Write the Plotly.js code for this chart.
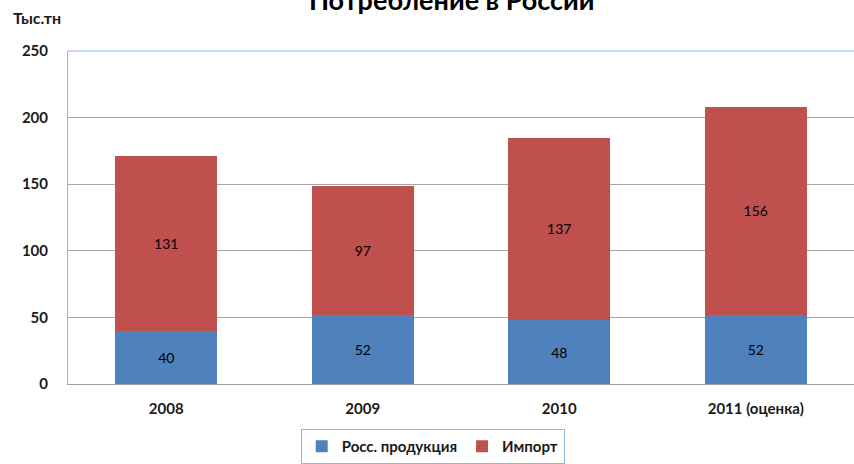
<!DOCTYPE html>
<html>
<head>
<meta charset="utf-8">
<script src="https://cdn.plot.ly/plotly-3.0.1.min.js"></script>
<style>html,body{margin:0;padding:0;background:#fff}#chart{width:854px;height:464px}</style>
</head>
<body>
<div id="chart"></div>
<script>
const categories = ["2008", "2009", "2010", "2011 (оценка)"];
const domestic = [40, 52, 48, 52];
const imports = [131, 97, 137, 156];
const seriesNames = ["Росс. продукция", "Импорт"];
const yTicks = [0, 50, 100, 150, 200, 250];

const font = "Lato, 'Open Sans', sans-serif";

const traces = [
  {
    type: "bar", name: seriesNames[0], x: categories, y: domestic,
    marker: {color: "#4F81BD"},
    text: domestic.map(String), textposition: "inside", insidetextanchor: "middle",
    textfont: {family: font, size: 14, color: "#000"}, hoverinfo: "none"
  },
  {
    type: "bar", name: seriesNames[1], x: categories, y: imports,
    marker: {color: "#C0504D"},
    text: imports.map(String), textposition: "inside", insidetextanchor: "middle",
    textfont: {family: font, size: 14, color: "#000"}, hoverinfo: "none"
  }
];

const layout = {
  width: 854, height: 464,
  margin: {l: 68, r: 0, t: 51, b: 78},
  barmode: "stack", bargap: 0.48,
  paper_bgcolor: "#fff", plot_bgcolor: "#fff",
  font: {family: font, size: 14, color: "#1a1a1a"},
  title: {text: "<b>Потребление в России</b>", x: 0.529, xref: "container", y: 0.999, yref: "container", yanchor: "middle",
          font: {family: font, size: 27, color: "#000"}},
  xaxis: {
    type: "category",
    showgrid: false, showline: true, linecolor: "#A0A0A0", linewidth: 1,
    ticks: "", tickfont: {family: font, size: 15, color: "#1a1a1a", weight: "bold"},
    ticklabelstandoff: 11
  },
  yaxis: {
    range: [0, 250], tickvals: yTicks, ticktext: yTicks.map(v => "<b>" + v + "</b>"),
    showgrid: true, gridcolor: "#A6A6A6", gridwidth: 1,
    showline: true, linecolor: "#8EB4E3", linewidth: 1, mirror: false,
    zeroline: false, ticks: "", ticklabelstandoff: 16,
    tickfont: {family: font, size: 15, color: "#1a1a1a"}
  },
  shapes: [
    {type: "line", xref: "paper", yref: "paper", x0: 0, x1: 1, y0: 1, y1: 1, line: {color: "#8EB4E3", width: 1}}
  ],
  annotations: [
    {text: "<b>Тыс.тн</b>", xref: "paper", yref: "paper", x: -0.072, y: 1.1, xanchor: "left", yanchor: "middle",
     showarrow: false, font: {family: font, size: 16, color: "#1a1a1a"}}
  ],
  legend: {
    orientation: "h", x: 0.464, xanchor: "center", y: -0.135, yanchor: "top",
    bordercolor: "#8EB4E3", borderwidth: 1, bgcolor: "#fff",
    font: {family: font, size: 15, color: "#1a1a1a", weight: "bold"},
    itemwidth: 30, traceorder: "normal"
  },
  showlegend: true
};

Plotly.newPlot("chart", traces, layout, {displayModeBar: false, staticPlot: true});
</script>
</body>
</html>
